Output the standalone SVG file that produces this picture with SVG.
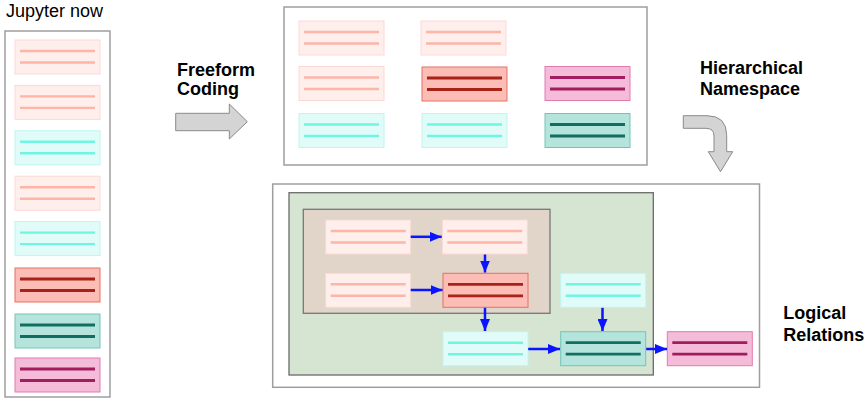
<svg xmlns="http://www.w3.org/2000/svg" width="865" height="399" viewBox="0 0 865 399">
<defs>
<style>
.frame{fill:#fff;stroke:#9e9e9e;stroke-width:1.5}
.lbl{font-family:"Liberation Sans",Arial,sans-serif;font-size:18px;fill:#000}
.b{font-weight:bold}
.card rect{stroke-width:1}
.card line{stroke-width:2.4}
.lp rect{fill:#feefed;stroke:#fbd9d3}
.lp line{stroke:#fdb5a8}
.rd rect{fill:#fbbdb5;stroke:#e87060}
.rd line{stroke:#a82218;stroke-width:2.8}
.lc rect{fill:#e1fcf8;stroke:#bff6ee}
.lc line{stroke:#6ff5e2}
.tl rect{fill:#b5e4dd;stroke:#72c5b6}
.tl line{stroke:#126e60;stroke-width:2.8}
.mg rect{fill:#f4bcd9;stroke:#e07cb0}
.mg line{stroke:#a21d5f;stroke-width:2.8}
.blk{fill:#d4d4d4;stroke:#8a8a8a;stroke-width:1}
.conn line{stroke:#0a14ff;stroke-width:2.5;marker-end:url(#ah)}
</style>
<marker id="ah" markerUnits="userSpaceOnUse" markerWidth="12" markerHeight="10" refX="12" refY="5" orient="auto">
<path d="M0,0 L12,5 L0,10 z" fill="#0a14ff"/>
</marker>
</defs>
<rect width="865" height="399" fill="#fff"/>

<!-- Left column -->
<g id="jupyter-now">
<text class="lbl" x="6" y="17">Jupyter now</text>
<rect class="frame" x="5" y="31" width="105" height="366"/>
<g id="l1" class="card lp" transform="translate(15,40)"><rect width="85" height="34"/><line x1="5" y1="11" x2="80" y2="11"/><line x1="5" y1="22.5" x2="80" y2="22.5"/></g>
<g id="l2" class="card lp" transform="translate(15,85.4)"><rect width="85" height="34"/><line x1="5" y1="11" x2="80" y2="11"/><line x1="5" y1="22.5" x2="80" y2="22.5"/></g>
<g id="l3" class="card lc" transform="translate(15,130.8)"><rect width="85" height="34"/><line x1="5" y1="11" x2="80" y2="11"/><line x1="5" y1="22.5" x2="80" y2="22.5"/></g>
<g id="l4" class="card lp" transform="translate(15,176.2)"><rect width="85" height="34"/><line x1="5" y1="11" x2="80" y2="11"/><line x1="5" y1="22.5" x2="80" y2="22.5"/></g>
<g id="l5" class="card lc" transform="translate(15,221.6)"><rect width="85" height="34"/><line x1="5" y1="11" x2="80" y2="11"/><line x1="5" y1="22.5" x2="80" y2="22.5"/></g>
<g id="l6" class="card rd" transform="translate(15,268)"><rect width="85" height="34"/><line x1="5" y1="11" x2="80" y2="11"/><line x1="5" y1="22.5" x2="80" y2="22.5"/></g>
<g id="l7" class="card tl" transform="translate(15,314)"><rect width="85" height="34"/><line x1="5" y1="11" x2="80" y2="11"/><line x1="5" y1="22.5" x2="80" y2="22.5"/></g>
<g id="l8" class="card mg" transform="translate(15,358)"><rect width="85" height="34"/><line x1="5" y1="11" x2="80" y2="11"/><line x1="5" y1="22.5" x2="80" y2="22.5"/></g>
</g>

<!-- Freeform coding -->
<g id="freeform">
<text class="lbl b" x="177" y="76">Freeform</text>
<text class="lbl b" x="177" y="95">Coding</text>
<polygon class="blk" points="175.7,113.3 229.3,113.3 229.3,104 247.3,121.7 229.3,139 229.3,130.7 175.7,130.7"/>
</g>

<!-- Top box -->
<g id="namespace-box">
<rect class="frame" x="284" y="7" width="363" height="158"/>
<g id="t1" class="card lp" transform="translate(299,21)"><rect width="85" height="34"/><line x1="5" y1="11" x2="80" y2="11"/><line x1="5" y1="22.5" x2="80" y2="22.5"/></g>
<g id="t2" class="card lp" transform="translate(421,21)"><rect width="85" height="34"/><line x1="5" y1="11" x2="80" y2="11"/><line x1="5" y1="22.5" x2="80" y2="22.5"/></g>
<g id="t3" class="card lp" transform="translate(299,66.5)"><rect width="85" height="34"/><line x1="5" y1="11" x2="80" y2="11"/><line x1="5" y1="22.5" x2="80" y2="22.5"/></g>
<g id="t4" class="card rd" transform="translate(422,67)"><rect width="85" height="34"/><line x1="5" y1="11" x2="80" y2="11"/><line x1="5" y1="22.5" x2="80" y2="22.5"/></g>
<g id="t5" class="card mg" transform="translate(545,66.5)"><rect width="85" height="34"/><line x1="5" y1="11" x2="80" y2="11"/><line x1="5" y1="22.5" x2="80" y2="22.5"/></g>
<g id="t6" class="card lc" transform="translate(299,113.5)"><rect width="85" height="34"/><line x1="5" y1="11" x2="80" y2="11"/><line x1="5" y1="22.5" x2="80" y2="22.5"/></g>
<g id="t7" class="card lc" transform="translate(422,113.5)"><rect width="85" height="34"/><line x1="5" y1="11" x2="80" y2="11"/><line x1="5" y1="22.5" x2="80" y2="22.5"/></g>
<g id="t8" class="card tl" transform="translate(545,113.5)"><rect width="85" height="34"/><line x1="5" y1="11" x2="80" y2="11"/><line x1="5" y1="22.5" x2="80" y2="22.5"/></g>
</g>

<!-- Hierarchical namespace -->
<g id="hierarchical">
<text class="lbl b" x="700" y="74">Hierarchical</text>
<text class="lbl b" x="700" y="95">Namespace</text>
<path class="blk" d="M683.3,115.7 L707,115.7 Q726.7,115.7 726.7,135.4 L726.7,151.7 L732.7,151.7 L720.5,171.7 L708.3,151.7 L714,151.7 L714,136 Q714,128.3 706,128.3 L683.3,128.3 Z"/>
</g>

<!-- Bottom box -->
<g id="relations-box">
<rect class="frame" x="272.7" y="184" width="486.8" height="203.3"/>
<rect x="289" y="192.7" width="364.3" height="182.3" fill="#d6e4d2" stroke="#6b6b6b" stroke-width="1.3"/>
<rect x="303.3" y="209.3" width="246.7" height="104" fill="#e1d4c8" stroke="#777" stroke-width="1.3"/>
<g id="bA" class="card lp" transform="translate(325.7,220)"><rect width="85" height="34"/><line x1="5" y1="11" x2="80" y2="11"/><line x1="5" y1="22.5" x2="80" y2="22.5"/></g>
<g id="bB" class="card lp" transform="translate(442.3,220)"><rect width="85" height="34"/><line x1="5" y1="11" x2="80" y2="11"/><line x1="5" y1="22.5" x2="80" y2="22.5"/></g>
<g id="bC" class="card lp" transform="translate(325.7,273.3)"><rect width="85" height="34"/><line x1="5" y1="11" x2="80" y2="11"/><line x1="5" y1="22.5" x2="80" y2="22.5"/></g>
<g id="bD" class="card rd" transform="translate(443,273.3)"><rect width="85" height="34"/><line x1="5" y1="11" x2="80" y2="11"/><line x1="5" y1="22.5" x2="80" y2="22.5"/></g>
<g id="bE" class="card lc" transform="translate(560.7,273.3)"><rect width="85" height="34"/><line x1="5" y1="11" x2="80" y2="11"/><line x1="5" y1="22.5" x2="80" y2="22.5"/></g>
<g id="bF" class="card lc" transform="translate(443,331.7)"><rect width="85" height="34"/><line x1="5" y1="11" x2="80" y2="11"/><line x1="5" y1="22.5" x2="80" y2="22.5"/></g>
<g id="bG" class="card tl" transform="translate(560.7,331.7)"><rect width="85" height="34"/><line x1="5" y1="11" x2="80" y2="11"/><line x1="5" y1="22.5" x2="80" y2="22.5"/></g>
<g id="bH" class="card mg" transform="translate(667.3,331.7)"><rect width="85" height="34"/><line x1="5" y1="11" x2="80" y2="11"/><line x1="5" y1="22.5" x2="80" y2="22.5"/></g>
</g>

<g id="connectors" class="conn">
<line x1="410.7" y1="236.8" x2="441.7" y2="236.8"/>
<line x1="485" y1="254.5" x2="485" y2="272.5"/>
<line x1="410.7" y1="290" x2="442.5" y2="290"/>
<line x1="485" y1="307.8" x2="485" y2="331"/>
<line x1="602.5" y1="307.8" x2="602.5" y2="331"/>
<line x1="528.2" y1="349" x2="560" y2="349"/>
<line x1="646.2" y1="349" x2="667" y2="349"/>
</g>

<g id="logical">
<text class="lbl b" x="783.3" y="319.3">Logical</text>
<text class="lbl b" x="783.3" y="340.5">Relations</text>
</g>
</svg>
